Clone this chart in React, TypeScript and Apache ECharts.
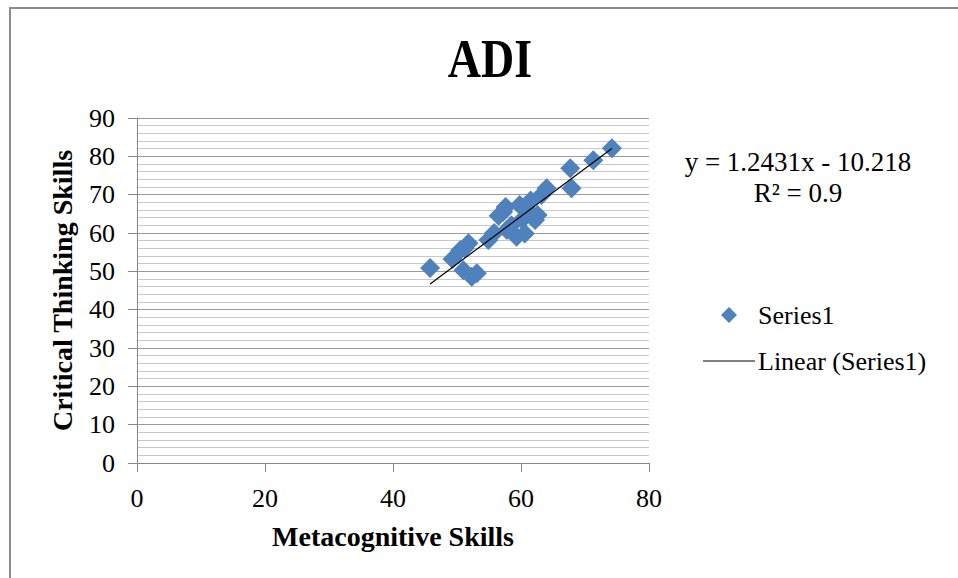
import React, { useEffect, useRef } from "react";
import * as echarts from "echarts";

const chartTitle = "ADI";
const xAxisTitle = "Metacognitive Skills";
const yAxisTitle = "Critical Thinking Skills";
const seriesName = "Series1";
const trendName = "Linear (Series1)";
const equationText = "y = 1.2431x - 10.218";
const r2Text = "R² = 0.9";
const slope = 1.2431;
const intercept = -10.218;

const xValues = [45.8, 49.3, 50.5, 51.2, 51.8, 51.0, 52.3, 53.1, 54.9, 55.8, 56.5, 57.2, 57.6, 57.8, 58.5, 59.3, 59.8, 60.2, 60.6, 61.0, 61.5, 62.2, 62.6, 63.2, 64.0, 67.7, 67.9, 71.3, 74.2];
const yValues = [50.9, 53.2, 55.5, 56.0, 57.3, 50.3, 48.6, 49.5, 58.2, 60.0, 64.5, 65.5, 66.8, 60.8, 62.0, 59.0, 67.3, 63.5, 59.9, 66.0, 68.5, 63.4, 64.7, 69.9, 71.7, 76.9, 71.7, 79.0, 82.1];

const FONT = "'Liberation Serif', 'DejaVu Serif', serif";

export default function App() {
  const ref = useRef<HTMLDivElement>(null);
  useEffect(() => {
    if (!ref.current) return;
    const chart = echarts.init(ref.current, null, { renderer: "svg" });
    const points = xValues.map((x, i) => [x, yValues[i]]);
    const xMin = Math.min(...xValues);
    const xMax = Math.max(...xValues);
    const trend = [
      [xMin, slope * xMin + intercept],
      [xMax, slope * xMax + intercept],
    ];
    chart.setOption({
      animation: false,
      backgroundColor: "#ffffff",
      textStyle: { fontFamily: FONT },
      grid: { left: 137, right: 309, top: 118, bottom: 115 },
      xAxis: {
        type: "value",
        min: 0,
        max: 80,
        interval: 20,
        name: xAxisTitle,
        nameLocation: "middle",
        nameGap: 59,
        nameTextStyle: { fontFamily: FONT, fontSize: 28, fontWeight: "bold", color: "#000" },
        axisLine: { show: true, lineStyle: { color: "#868686", width: 1 } },
        axisTick: { show: true, length: 9, lineStyle: { color: "#868686" } },
        axisLabel: { margin: 22, fontSize: 26, color: "#000", fontFamily: FONT },
        splitLine: { show: false },
      },
      yAxis: {
        type: "value",
        min: 0,
        max: 90,
        interval: 10,
        name: yAxisTitle,
        nameLocation: "middle",
        nameGap: 61,
        nameTextStyle: { fontFamily: FONT, fontSize: 28, fontWeight: "bold", color: "#000" },
        axisLine: { show: true, lineStyle: { color: "#868686", width: 1 } },
        axisTick: { show: true, length: 9, lineStyle: { color: "#868686" } },
        axisLabel: { margin: 22, fontSize: 26, color: "#000", fontFamily: FONT },
        splitLine: { show: true, lineStyle: { color: "#9a9a9a", width: 1 } },
        minorTick: { show: false, splitNumber: 5 },
        minorSplitLine: { show: true, lineStyle: { color: "#c8c8c8", width: 1 } },
      },
      legend: [
        {
          data: [{ name: seriesName, icon: "diamond", itemStyle: { color: "#4f81bd", opacity: 1 } }],
          left: 721,
          top: 302,
          padding: 0,
          itemWidth: 16,
          itemHeight: 16,
          selectedMode: false,
          formatter: "{a|{name}}",
          textStyle: {
            fontFamily: FONT,
            fontSize: 26,
            color: "#000",
            rich: { a: { fontFamily: FONT, fontSize: 26, color: "#000", padding: [0, 0, 0, 16] } },
          },
        },
        {
          data: [{ name: trendName, icon: "rect", itemStyle: { color: "#000" } }],
          left: 703,
          top: 348,
          padding: 0,
          itemWidth: 52,
          itemHeight: 1.2,
          selectedMode: false,
          formatter: "{a|{name}}",
          textStyle: {
            fontFamily: FONT,
            fontSize: 26,
            color: "#000",
            rich: { a: { fontFamily: FONT, fontSize: 26, color: "#000", padding: [0, 0, 0, -2] } },
          },
        },
      ],
      series: [
        {
          name: seriesName,
          type: "scatter",
          symbol: "diamond",
          symbolSize: 20,
          itemStyle: { color: "#4f81bd", opacity: 1 },
          data: points,
          z: 2,
        },
        {
          name: trendName,
          type: "line",
          symbol: "none",
          lineStyle: { color: "#000", width: 1.2 },
          itemStyle: { color: "#000" },
          data: trend,
          z: 3,
        },
      ],
      graphic: [
        {
          type: "rect",
          shape: { x: 10, y: 8, width: 980, height: 600 },
          style: { fill: "none", stroke: "#8c8c8c", lineWidth: 2 },
          silent: true,
        },
        {
          type: "text",
          x: 490,
          y: 59,
          scaleY: 1.2,
          style: {
            text: chartTitle,
            fontFamily: FONT,
            fontSize: 46,
            fontWeight: "bold",
            fill: "#000",
            align: "center",
            verticalAlign: "middle",
          },
        },
        {
          type: "text",
          x: 798,
          y: 162,
          style: {
            text: equationText,
            fontFamily: FONT,
            fontSize: 27,
            fill: "#000",
            align: "center",
            verticalAlign: "middle",
          },
        },
        {
          type: "text",
          x: 798,
          y: 193,
          style: {
            text: r2Text,
            fontFamily: FONT,
            fontSize: 27,
            fill: "#000",
            align: "center",
            verticalAlign: "middle",
          },
        },
      ],
    });
    return () => chart.dispose();
  }, []);
  return (
    <div
      ref={ref}
      style={{ position: "fixed", left: 0, top: 0, width: 958, height: 578 }}
    />
  );
}
